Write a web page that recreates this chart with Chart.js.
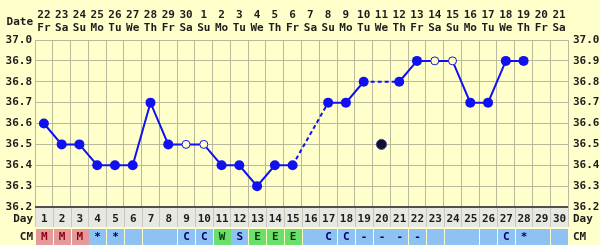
<!DOCTYPE html>
<html>
<head>
<meta charset="utf-8">
<script src="https://cdn.jsdelivr.net/npm/chart.js@4.4.0/dist/chart.umd.min.js"></script>
<style>
  html, body { margin: 0; padding: 0; background: #ffffcc; }
  #wrap { width: 600px; height: 245px; position: relative; }
</style>
</head>
<body>
<div id="wrap"><canvas id="bbt"></canvas></div>
<script>
// chart data
const dates = ['22', '23', '24', '25', '26', '27', '28', '29', '30', '1', '2', '3', '4', '5', '6',
    '7', '8', '9', '10', '11', '12', '13', '14', '15', '16', '17', '18', '19', '20', '21'];
const weekdays = ['Fr', 'Sa', 'Su', 'Mo', 'Tu', 'We', 'Th', 'Fr', 'Sa', 'Su', 'Mo', 'Tu', 'We', 'Th', 'Fr',
    'Sa', 'Su', 'Mo', 'Tu', 'We', 'Th', 'Fr', 'Sa', 'Su', 'Mo', 'Tu', 'We', 'Th', 'Fr', 'Sa'];
const cycleDays = ['1', '2', '3', '4', '5', '6', '7', '8', '9', '10', '11', '12', '13', '14', '15',
    '16', '17', '18', '19', '20', '21', '22', '23', '24', '25', '26', '27', '28', '29', '30'];
const temps = [36.6, 36.5, 36.5, 36.4, 36.4, 36.4, 36.7, 36.5, 36.5, 36.5, 36.4, 36.4, 36.3, 36.4, 36.4,
    null, 36.7, 36.7, 36.8, null, 36.8, 36.9, 36.9, 36.9, 36.7, 36.7, 36.9, 36.9, null, null];
const openDays = [9, 10, 23, 24];
const discardedTemps = [null, null, null, null, null, null, null, null, null, null, null, null, null, null, null,
    null, null, null, null, 36.5, null, null, null, null, null, null, null, null, null, null];
const cmCodes = ['M', 'M', 'M', '*', '*', '', '', '', 'C', 'C', 'W', 'S', 'E', 'E', 'E',
    '', 'C', 'C', '-', '-', '-', '-', '', '', '', '', 'C', '*', '', ''];
const cmTypes = ['m', 'm', 'm', 'b', 'b', 'b', 'b', 'b', 'b', 'b', 'g', 'b', 'g', 'g', 'g',
    'b', 'b', 'b', 'b', 'b', 'b', 'b', 'b', 'b', 'b', 'b', 'b', 'b', 'b', 'b'];
const tempTicks = [36.2, 36.3, 36.4, 36.5, 36.6, 36.7, 36.8, 36.9, 37.0];

const BG = '#ffffcc';
const GRID = '#b9b99c';
const BLUE = '#1010f0';
const TEXT = '#1c1c1c';
const FONT = { family: 'DejaVu Sans Mono', size: 11, weight: 'bold' };

const cmFill = { m: '#e49a9a', b: '#8ec2f2', g: '#6cde6c' };
const cmText = { m: '#8a0010', b: '#000070', g: '#003c00' };

const isOpen = i => openDays.includes(i + 1);

const rowsPlugin = {
    id: 'rows',
    afterDraw(chart) {
        const { ctx, chartArea, scales } = chart;
        const x = scales.x;
        const half = (x.getPixelForValue(1) - x.getPixelForValue(0)) / 2;
        const dayTop = chartArea.bottom + 1, dayBot = 227;
        const cmTop = 229, cmBot = 245;

        ctx.save();
        ctx.font = 'bold 11px "DejaVu Sans Mono"';
        ctx.textBaseline = 'middle';

        // day row
        ctx.fillStyle = '#e8e8e2';
        ctx.fillRect(chartArea.left, dayTop, chartArea.right - chartArea.left, dayBot - dayTop);
        ctx.strokeStyle = '#c8c8bc';
        ctx.lineWidth = 1;
        for (let i = 0; i <= cycleDays.length; i++) {
            const px = Math.round(x.getPixelForValue(i) - half) + 0.5;
            ctx.beginPath();
            ctx.moveTo(px, dayTop);
            ctx.lineTo(px, dayBot);
            ctx.stroke();
        }
        ctx.fillStyle = TEXT;
        ctx.textAlign = 'center';
        cycleDays.forEach((d, i) => ctx.fillText(d, x.getPixelForValue(i) + 0.5, 219));

        // CM row
        cmTypes.forEach((t, i) => {
            const cx = x.getPixelForValue(i);
            ctx.fillStyle = cmFill[t];
            ctx.fillRect(Math.round(cx - half) + 1, cmTop, Math.round(2 * half) - 1, cmBot - cmTop);
            if (cmCodes[i]) {
                ctx.fillStyle = cmText[t];
                ctx.fillText(cmCodes[i], cx + 0.5, 237);
            }
        });

        // side labels
        ctx.fillStyle = TEXT;
        ctx.textAlign = 'right';
        ctx.fillText('Date', 33, 22);
        ctx.fillText('Day', 33, 219);
        ctx.fillText('CM', 33, 237);
        ctx.textAlign = 'left';
        ctx.fillText('Day', chartArea.right + 5, 219);
        ctx.fillText('CM', chartArea.right + 5, 237);

        // dark baseline
        ctx.strokeStyle = '#505050';
        ctx.lineWidth = 2;
        ctx.beginPath();
        ctx.moveTo(chartArea.left, chartArea.bottom);
        ctx.lineTo(chartArea.right, chartArea.bottom);
        ctx.stroke();
        ctx.restore();
    }
};

const yTicks = {
    color: TEXT,
    font: FONT,
    autoSkip: false,
    callback: v => Number(v).toFixed(1)
};

new Chart(document.getElementById('bbt'), {
    type: 'line',
    data: {
        labels: cycleDays,
        datasets: [{
            data: temps,
            borderColor: BLUE,
            borderWidth: 2,
            spanGaps: true,
            segment: {
                // missing or discarded days are bridged with a dashed line
                borderDash: c => (c.p0.skip || c.p1.skip ? [4, 3] : undefined)
            },
            pointRadius: temps.map((v, i) => (isOpen(i) ? 4 : 5)),
            pointBorderWidth: temps.map((v, i) => (isOpen(i) ? 1 : 0)),
            pointBorderColor: BLUE,
            pointBackgroundColor: temps.map((v, i) => (isOpen(i) ? BG : BLUE)),
            yAxisID: 'y'
        }, {
            data: discardedTemps,
            showLine: false,
            pointRadius: 5,
            pointBorderWidth: 1,
            pointBorderColor: '#3a3aa0',
            pointBackgroundColor: '#10102a',
            yAxisID: 'y'
        }]
    },
    options: {
        responsive: true,
        maintainAspectRatio: false,
        animation: false,
        events: [],
        layout: { padding: { bottom: 38 } },
        plugins: {
            legend: { display: false },
            tooltip: { enabled: false }
        },
        scales: {
            x: {
                position: 'top',
                offset: true,
                grid: { color: GRID, offset: true, drawTicks: false },
                border: { color: GRID },
                ticks: {
                    color: TEXT,
                    font: { ...FONT, lineHeight: 1.18 },
                    padding: 5,
                    maxRotation: 0,
                    autoSkip: false,
                    callback: (v, i) => [dates[i], weekdays[i]]
                },
                afterFit: s => { s.height = 40; }
            },
            y: {
                position: 'left',
                min: 36.2,
                max: 37.0,
                afterBuildTicks: s => { s.ticks = tempTicks.map(v => ({ value: v })); },
                grid: { color: GRID, drawTicks: false },
                border: { color: GRID },
                ticks: { ...yTicks, padding: 3 },
                afterFit: s => { s.width = 35; }
            },
            y2: {
                position: 'right',
                min: 36.2,
                max: 37.0,
                afterBuildTicks: s => { s.ticks = tempTicks.map(v => ({ value: v })); },
                grid: { display: false, drawTicks: false },
                border: { color: GRID },
                ticks: { ...yTicks, padding: 5 },
                afterFit: s => { s.width = 32; }
            }
        }
    },
    plugins: [rowsPlugin]
});
</script>
</body>
</html>
